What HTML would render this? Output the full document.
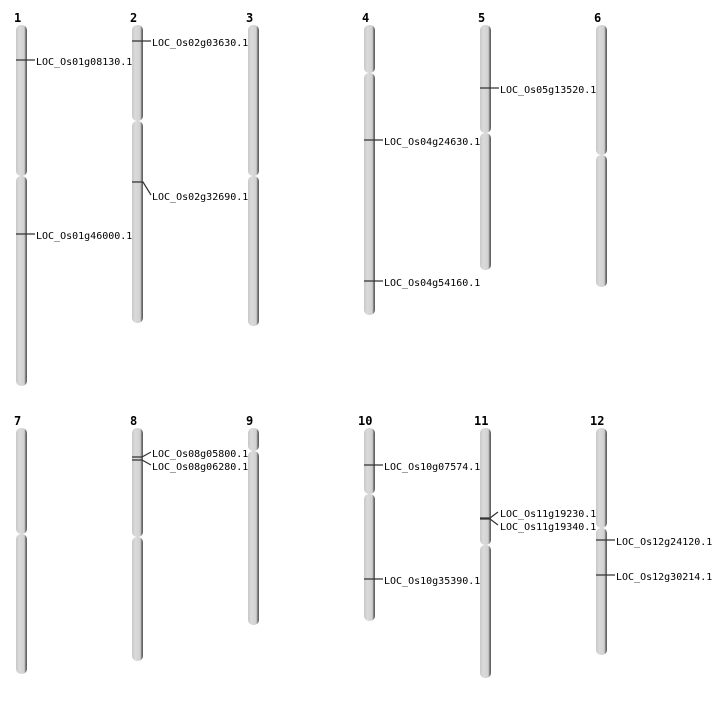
<!DOCTYPE html>
<html><head><style>body{margin:0;background:#fff}</style></head><body>
<svg width="712" height="700" xmlns="http://www.w3.org/2000/svg" font-family="'DejaVu Sans Mono','Liberation Mono',monospace">
<defs>
<linearGradient id="g" x1="0" x2="1" y1="0" y2="0">
<stop offset="0" stop-color="#c8c8c8"/><stop offset="0.3" stop-color="#dadada"/><stop offset="0.75" stop-color="#d0d0d0"/><stop offset="0.85" stop-color="#888"/><stop offset="1" stop-color="#555"/>
</linearGradient>
<g id="s"></g>
</defs>
<g fill="url(#g)">
<!-- row1 -->
<rect x="16" y="25" width="11" height="151" rx="5"/><rect x="16" y="176" width="11" height="210" rx="5"/>
<rect x="132" y="25" width="11" height="96" rx="5"/><rect x="132" y="121" width="11" height="202" rx="5"/>
<rect x="248" y="25" width="11" height="151" rx="5"/><rect x="248" y="176" width="11" height="150" rx="5"/>
<rect x="364" y="25" width="11" height="48" rx="5"/><rect x="364" y="73" width="11" height="242" rx="5"/>
<rect x="480" y="25" width="11" height="108" rx="5"/><rect x="480" y="133" width="11" height="137" rx="5"/>
<rect x="596" y="25" width="11" height="130" rx="5"/><rect x="596" y="155" width="11" height="132" rx="5"/>
<!-- row2 -->
<rect x="16" y="428" width="11" height="106" rx="5"/><rect x="16" y="534" width="11" height="140" rx="5"/>
<rect x="132" y="428" width="11" height="109" rx="5"/><rect x="132" y="537" width="11" height="124" rx="5"/>
<rect x="248" y="428" width="11" height="23" rx="5"/><rect x="248" y="451" width="11" height="174" rx="5"/>
<rect x="364" y="428" width="11" height="66" rx="5"/><rect x="364" y="494" width="11" height="127" rx="5"/>
<rect x="480" y="428" width="11" height="117" rx="5"/><rect x="480" y="545" width="11" height="133" rx="5"/>
<rect x="596" y="428" width="11" height="100" rx="5"/><rect x="596" y="528" width="11" height="127" rx="5"/>
</g>
<g font-weight="bold" font-size="12" fill="#000">
<text x="14" y="22">1</text><text x="130" y="22">2</text><text x="246" y="22">3</text><text x="362" y="22">4</text><text x="478" y="22">5</text><text x="594" y="22">6</text>
<text x="14" y="425">7</text><text x="130" y="425">8</text><text x="246" y="425">9</text><text x="358" y="425">10</text><text x="474" y="425">11</text><text x="590" y="425">12</text>
</g>
<g stroke="#333" stroke-width="1.2" fill="none">
<path d="M16 60H35"/><path d="M16 234H35"/>
<path d="M132 41H151"/><path d="M132 182H143L151 195"/>
<path d="M364 140H383"/><path d="M364 281H383"/>
<path d="M480 88H499"/>
<path d="M132 457H142L151 452M132 460H142L151 465"/>
<path d="M364 465H383"/><path d="M364 579H383"/>
<path d="M480 518H490L498 512M480 519H490L498 525"/>
<path d="M596 540H615"/><path d="M596 575H615"/>
</g>
<g font-size="10" fill="#000">
<text x="36" y="65">LOC_Os01g08130.1</text>
<text x="36" y="239">LOC_Os01g46000.1</text>
<text x="152" y="46">LOC_Os02g03630.1</text>
<text x="152" y="200">LOC_Os02g32690.1</text>
<text x="384" y="145">LOC_Os04g24630.1</text>
<text x="384" y="286">LOC_Os04g54160.1</text>
<text x="500" y="93">LOC_Os05g13520.1</text>
<text x="152" y="457">LOC_Os08g05800.1</text>
<text x="152" y="470">LOC_Os08g06280.1</text>
<text x="384" y="470">LOC_Os10g07574.1</text>
<text x="384" y="584">LOC_Os10g35390.1</text>
<text x="500" y="517">LOC_Os11g19230.1</text>
<text x="500" y="530">LOC_Os11g19340.1</text>
<text x="616" y="545">LOC_Os12g24120.1</text>
<text x="616" y="580">LOC_Os12g30214.1</text>
</g>
</svg>
</body></html>
